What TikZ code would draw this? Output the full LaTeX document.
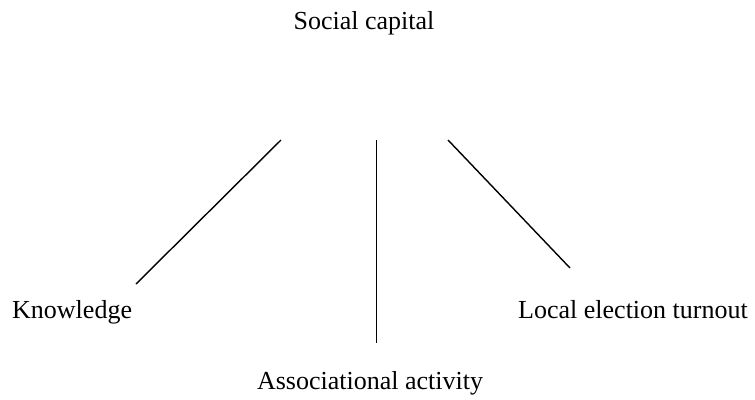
\documentclass[tikz,border=0pt]{standalone}
\usepackage{fontspec}
\setmainfont{Liberation Serif}
\begin{document}
\begin{tikzpicture}[x=1pt,y=-1pt,
  lbl/.style={inner sep=0pt,font=\fontsize{26}{30}\selectfont},
  link/.style={line width=1.4pt,line cap=butt}]
\useasboundingbox (0,0) rectangle (755,399);
\node[lbl,anchor=base] (sc) at (364,29) {Social capital};
\node[lbl,anchor=base west] (kn) at (12,318) {Knowledge};
\node[lbl,anchor=base west] (le) at (518,318) {Local election turnout};
\node[lbl,anchor=base] (aa) at (370,389) {Associational activity};
\coordinate (l1) at (281,140);
\coordinate (l2) at (136,284);
\coordinate (m1) at (376.5,140);
\coordinate (m2) at (376.5,343);
\coordinate (r1) at (448,140);
\coordinate (r2) at (570,268);
\draw[link] (l1) -- (l2);
\draw[link] (m1) -- (m2);
\draw[link] (r1) -- (r2);
\end{tikzpicture}
\end{document}
